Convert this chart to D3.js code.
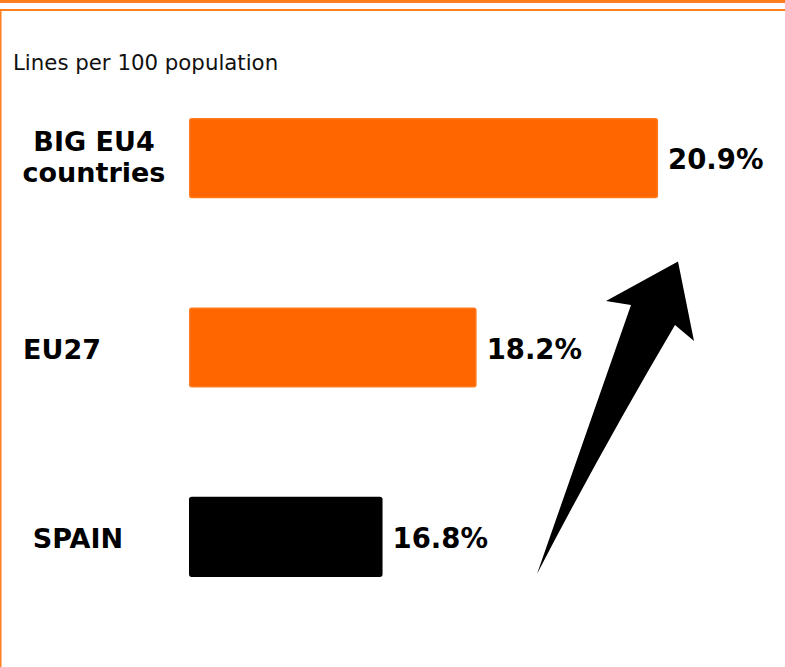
<!DOCTYPE html>
<html>
<head>
<meta charset="utf-8">
<script src="https://cdn.jsdelivr.net/npm/d3@7"></script>
<style>
  html, body { margin: 0; padding: 0; background: #fff; }
  svg { display: block; }
</style>
</head>
<body>
<svg id="chart" width="785" height="667"></svg>
<script>
// Fixed lines per 100 population
const categories = ["BIG EU4 countries", "EU27", "SPAIN"];
const categoryLines = [["BIG EU4", "countries"], ["EU27"], ["SPAIN"]];
const values = [20.9, 18.2, 16.8];
const valueLabels = ["20.9%", "18.2%", "16.8%"];
const barColors = ["#FF6600", "#FF6600", "#000000"];
const barStrokes = ["#FF7A1C", "#FF7A1C", "#000000"];
const subtitle = "Lines per 100 population";

// Horizontal placement of each category label (centre of the text)
const labelCentres = [94, 62, 78];

const W = 785, H = 667;
const orange = "#FF7F1F";
const font = "DejaVu Sans, Verdana, sans-serif";
const svg = d3.select("#chart");

// Frame: thick band on top, thin rule beneath, and a left rule
svg.append("rect").attr("x", 0).attr("y", 0).attr("width", W).attr("height", 3).attr("fill", orange);
svg.append("rect").attr("x", 0).attr("y", 9).attr("width", W).attr("height", 2).attr("fill", orange);
svg.append("rect").attr("x", 0).attr("y", 9).attr("width", 1.5).attr("height", H - 9).attr("fill", orange);

svg.append("text")
  .attr("x", 13).attr("y", 70)
  .attr("font-family", font)
  .attr("font-size", 21.3)
  .attr("fill", "#111")
  .text(subtitle);

// The value axis does not start at zero
const x0 = 13.92;
const x = d3.scaleLinear().domain([x0, 21]).range([189, 664.8]);
const y = d3.scaleBand().domain(categories).range([118 - 54.5, 577 + 54.5]).paddingInner(0.577).paddingOuter(0.2885);

const rows = svg.append("g").selectAll("g")
  .data(categories.map((c, i) => ({ c, i, v: values[i] })))
  .join("g");

rows.append("rect")
  .attr("x", x(x0) + 0.75)
  .attr("y", d => y(d.c) + 0.75)
  .attr("width", d => x(d.v) - x(x0) - 1.5)
  .attr("height", y.bandwidth() - 1.5)
  .attr("rx", 2)
  .attr("fill", d => barColors[d.i])
  .attr("stroke", d => barStrokes[d.i])
  .attr("stroke-width", 1.5);

rows.append("text")
  .attr("x", d => x(d.v) + 10)
  .attr("y", d => y(d.c) + y.bandwidth() / 2 + 11)
  .attr("font-family", font)
  .attr("font-weight", "bold")
  .attr("font-size", 27.5)
  .attr("fill", "#000")
  .text(d => valueLabels[d.i]);

rows.each(function(d) {
  const lines = categoryLines[d.i];
  const cy = y(d.c) + y.bandwidth() / 2;
  const lh = 31;
  const t = d3.select(this).append("text")
    .attr("text-anchor", "middle")
    .attr("font-family", font)
    .attr("font-weight", "bold")
    .attr("font-size", 27)
    .attr("fill", "#000");
  lines.forEach((ln, k) => {
    t.append("tspan")
      .attr("x", labelCentres[d.i])
      .attr("y", cy + 11 + (k - (lines.length - 1) / 2) * lh - (lines.length > 1 ? 3 : 0))
      .text(ln);
  });
});

// Upward trend arrow, from below the SPAIN bar to beside the top bar
const tail = [537, y("SPAIN") + y.bandwidth() - 3];
const tip = [678, y("EU27") - 46];
const p = d3.path();
p.moveTo(tail[0], tail[1]);
p.lineTo(631, 305);
p.lineTo(606, 301);
p.lineTo(tip[0], tip[1]);
p.lineTo(694, 341);
p.lineTo(675, 325);
p.quadraticCurveTo(603, 447, tail[0], tail[1]);
p.closePath();
svg.append("path").attr("d", p.toString()).attr("fill", "#000");
</script>
</body>
</html>
